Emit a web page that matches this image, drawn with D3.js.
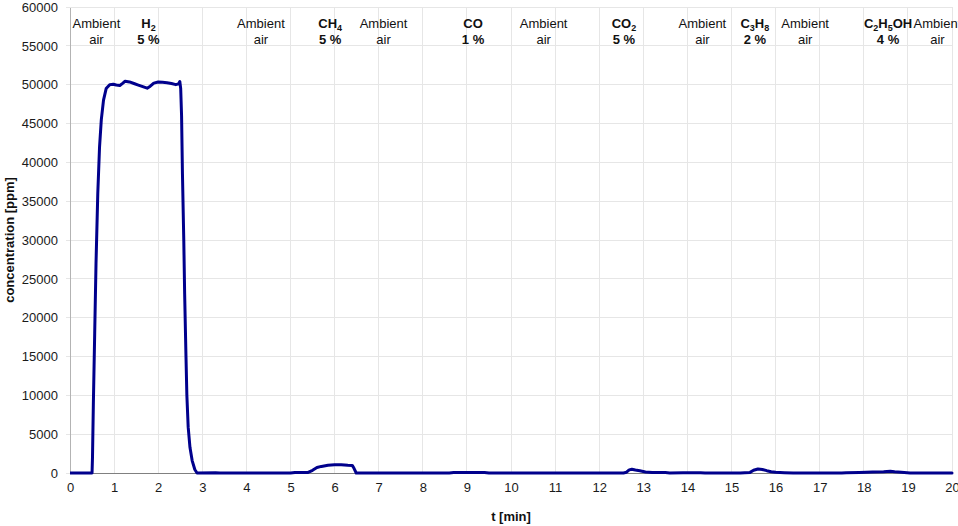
<!DOCTYPE html>
<html>
<head>
<meta charset="utf-8">
<script src="https://cdn.jsdelivr.net/npm/d3@7/dist/d3.min.js"></script>
<style>
  html, body { margin: 0; padding: 0; background: #fff; }
  svg { display: block; font-family: "Liberation Sans", Arial, sans-serif; }
</style>
</head>
<body>
<svg id="chart" width="958" height="526"></svg>
<script>
// ---- data ----
const timeMin = [0, 0.5, 0.51, 0.53, 0.56, 0.59, 0.63, 0.67, 0.71, 0.76, 0.82, 0.90, 0.98, 1.05, 1.13, 1.20, 1.25, 1.35, 1.45, 1.55, 1.65, 1.75, 1.82, 1.90, 2.00, 2.10, 2.20, 2.30, 2.40, 2.46, 2.49, 2.51, 2.53, 2.55, 2.58, 2.60, 2.63, 2.65, 2.68, 2.72, 2.77, 2.83, 2.88, 3.3, 3.4, 5.0, 5.1, 5.4, 5.5, 5.6, 5.7, 5.85, 6.0, 6.15, 6.3, 6.40, 6.44, 6.49, 8.6, 8.7, 9.4, 9.5, 12.55, 12.62, 12.68, 12.74, 12.82, 12.92, 13.05, 13.2, 13.5, 13.6, 13.9, 14.3, 14.4, 15.2, 15.3, 15.42, 15.5, 15.6, 15.7, 15.8, 15.9, 16.0, 16.2, 16.4, 17.5, 17.6, 17.9, 18.2, 18.45, 18.6, 18.7, 18.85, 19.05, 20];
const concPpm = [0, 0, 2000, 9000, 18000, 27000, 36000, 42000, 45500, 48000, 49500, 50000, 50050, 49950, 49900, 50200, 50450, 50350, 50150, 49950, 49750, 49550, 49800, 50200, 50350, 50300, 50250, 50150, 50000, 50100, 50400, 49500, 46000, 38500, 30000, 23000, 15000, 10000, 5900, 3300, 1600, 450, 0, 40, 0, 0, 60, 80, 350, 700, 850, 1000, 1060, 1050, 1000, 980, 600, 0, 0, 60, 60, 0, 0, 100, 400, 480, 380, 280, 140, 60, 50, 0, 30, 30, 0, 0, 40, 80, 350, 520, 450, 300, 170, 90, 40, 0, 0, 40, 80, 120, 160, 220, 160, 100, 0, 0];

const xTicks = d3.range(0, 21, 1);
const yTicks = d3.range(0, 60001, 5000);

const ambientPos = [0.6, 4.33, 7.11, 10.74, 14.34, 16.67, 19.67];
const ambientLine1 = "Ambient";
const ambientLine2 = "air";
const gasPos = [1.78, 5.9, 9.14, 12.56, 15.53, 18.55];
const gasFormula = ["H_2", "CH_4", "CO", "CO_2", "C_3H_8", "C_2H_5OH"];
const gasConc = ["5 %", "5 %", "1 %", "5 %", "2 %", "4 %"];

const xTitle = "t [min]";
const yTitle = "concentration [ppm]";

// ---- layout ----
const W = 958, H = 526;
const m = { left: 70, right: 6, top: 7, bottom: 53 };
const svg = d3.select("#chart");

const x = d3.scaleLinear().domain([0, 20]).range([m.left, W - m.right]);
const y = d3.scaleLinear().domain([0, 60000]).range([H - m.bottom, m.top]);

// grid
svg.append("g")
  .selectAll("line.v").data(xTicks).join("line")
  .attr("x1", d => x(d)).attr("x2", d => x(d))
  .attr("y1", y(0)).attr("y2", y(60000))
  .attr("stroke", "#e6e6e6").attr("stroke-width", 1).attr("shape-rendering", "crispEdges");
svg.append("g")
  .selectAll("line.h").data(yTicks).join("line")
  .attr("x1", x(0) - 4).attr("x2", x(20))
  .attr("y1", d => y(d)).attr("y2", d => y(d))
  .attr("stroke", "#e6e6e6").attr("stroke-width", 1).attr("shape-rendering", "crispEdges");

// axes
const yAxis = svg.append("g").attr("transform", `translate(${x(0)},0)`)
  .call(d3.axisLeft(y).tickValues(yTicks).tickSize(0).tickPadding(12).tickFormat(d3.format("d")));
yAxis.select(".domain").attr("stroke", "#b3b3b3").attr("shape-rendering", "crispEdges");
yAxis.selectAll("text").attr("font-size", 13).attr("fill", "#1a1a1a")
  .attr("font-family", "'Liberation Sans', Arial, sans-serif");

const xAxis = svg.append("g").attr("transform", `translate(0,${y(0)})`)
  .call(d3.axisBottom(x).tickValues(xTicks).tickSize(0).tickPadding(10).tickFormat(d3.format("d")));
xAxis.select(".domain").attr("stroke", "#808080").attr("shape-rendering", "crispEdges");
xAxis.selectAll("text").attr("font-size", 13).attr("fill", "#1a1a1a")
  .attr("font-family", "'Liberation Sans', Arial, sans-serif");

// line
svg.append("defs").append("clipPath").attr("id", "clip")
  .append("rect").attr("x", x(0)).attr("y", y(60000) - 2)
  .attr("width", x(20) - x(0) + 2).attr("height", y(0) - y(60000) + 4);

const pts = timeMin.map((t, i) => [t, concPpm[i]]);
const line = d3.line().x(d => x(d[0])).y(d => y(d[1]));
svg.append("path").datum(pts)
  .attr("clip-path", "url(#clip)")
  .attr("d", line)
  .attr("fill", "none").attr("stroke", "#00008c").attr("stroke-width", 3)
  .attr("stroke-linejoin", "round").attr("stroke-linecap", "round");

// annotations
const ann = svg.append("g").attr("font-size", 13).attr("fill", "#111").attr("text-anchor", "middle");
ambientPos.forEach(t => {
  ann.append("text").attr("x", x(t)).attr("y", 28).text(ambientLine1);
  ann.append("text").attr("x", x(t)).attr("y", 44).text(ambientLine2);
});
gasPos.forEach((t, i) => {
  const tx = ann.append("text").attr("x", x(t)).attr("y", 28).attr("font-weight", "bold");
  const parts = gasFormula[i].split(/(_\d)/).filter(s => s.length);
  parts.forEach(p => {
    if (p.startsWith("_")) {
      tx.append("tspan").attr("font-size", 9).attr("baseline-shift", -3).text(p.slice(1));
    } else {
      tx.append("tspan").text(p);
    }
  });
  ann.append("text").attr("x", x(t)).attr("y", 44).attr("font-weight", "bold").text(gasConc[i]);
});

// titles
svg.append("text").attr("x", (x(0) + x(20)) / 2).attr("y", 521)
  .attr("text-anchor", "middle").attr("font-weight", "bold").attr("font-size", 13)
  .attr("fill", "#111").text(xTitle);
svg.append("text")
  .attr("transform", `translate(14,${(y(0) + y(60000)) / 2}) rotate(-90)`)
  .attr("text-anchor", "middle").attr("font-weight", "bold").attr("font-size", 13)
  .attr("fill", "#111").text(yTitle);
</script>
</body>
</html>
